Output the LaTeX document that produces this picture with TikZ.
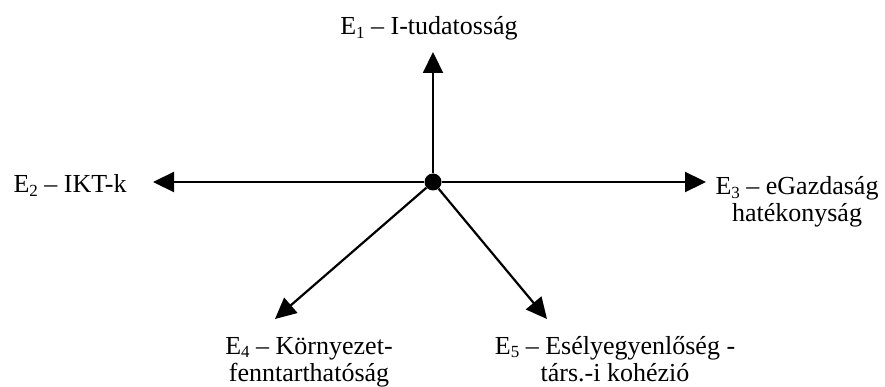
\documentclass[tikz,border=0pt]{standalone}
\usepackage{fontspec}
\setmainfont{Liberation Serif}
\usetikzlibrary{arrows.meta}
\newcommand\Esb[1]{E\raisebox{-0.3ex}{\fontsize{17}{17}\selectfont #1}}
\tikzset{
  arr/.style={line width=2.2pt, -{Triangle[length=21pt,width=20pt]}},
  lbl/.style={font=\fontsize{26}{27}\selectfont, inner sep=0pt, align=center, anchor=base},
}
\begin{document}
\begin{tikzpicture}[x=1pt,y=-1pt]
\useasboundingbox (0,0) rectangle (885,387);
\node[circle, fill=black, inner sep=0pt, minimum size=17pt] (c) at (433,182) {};
\coordinate (t1) at (433,52);
\coordinate (t2) at (153,182);
\coordinate (t3) at (706,182);
\coordinate (t4) at (275,319);
\coordinate (t5) at (547,319);
\draw[arr] (c) -- (t1);
\draw[arr] (c) -- (t2);
\draw[arr] (c) -- (t3);
\draw[arr] (c) -- (t4);
\draw[arr] (c) -- (t5);
\node[lbl] (l1) at (429,35) {\Esb{1} – I-tudatosság};
\node[lbl] (l2) at (70,193) {\Esb{2} – IKT-k};
\node[lbl] (l3) at (797,222) {\Esb{3} – eGazdaság\\hatékonyság};
\node[lbl] (l4) at (309,381) {\Esb{4} – Környezet-\\fenntarthatóság};
\node[lbl] (l5) at (615,381) {\Esb{5} – Esélyegyenlőség -\\társ.-i kohézió};
\end{tikzpicture}
\end{document}
